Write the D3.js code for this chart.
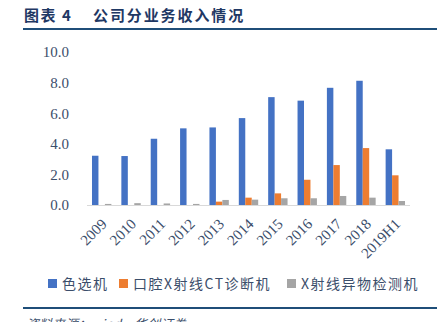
<!DOCTYPE html>
<html><head><meta charset="utf-8">
<script src="https://cdn.jsdelivr.net/npm/d3@7"></script>
<style>body{margin:0;background:#fff}</style>
</head><body>
<svg id="c" width="448" height="322"></svg>
<script>
const categories = ["2009","2010","2011","2012","2013","2014","2015","2016","2017","2018","2019H1"];
const seriesNames = ["色选机","口腔X射线CT诊断机","X射线异物检测机"];
const colorSorter = [3.22,3.2,4.33,5.01,5.07,5.68,7.05,6.82,7.66,8.12,3.64];
const dentalCT = [0,0,0,0,0.22,0.48,0.76,1.65,2.61,3.72,1.94];
const xrayDetect = [0.07,0.12,0.1,0.07,0.33,0.35,0.44,0.44,0.59,0.48,0.26];
const yTicks = [0,2,4,6,8,10];
const colors = ["#4472C4","#ED7D31","#A5A5A5"];
const series = [colorSorter, dentalCT, xrayDetect];

const svg = d3.select("#c");
const textColor = "#3B4E6B";
const serif = "'Liberation Serif','Times New Roman',serif";
const cjk = "'Noto Sans CJK SC','Liberation Serif',serif";

// title
svg.append("text").attr("x",24).attr("y",21).attr("fill","#1F3864")
  .attr("font-family",cjk).attr("font-weight","bold").attr("font-size",15)
  .attr("letter-spacing",1.5).text("图表 4");
svg.append("text").attr("x",93).attr("y",21).attr("fill","#1F3864")
  .attr("font-family",cjk).attr("font-weight","bold").attr("font-size",15)
  .attr("letter-spacing",1.9).text("公司分业务收入情况");
svg.append("line").attr("x1",23).attr("x2",437).attr("y1",29).attr("y2",29)
  .attr("stroke","#1F4E79").attr("stroke-width",2);

const x = d3.scaleBand().domain(categories).range([87,410]).paddingInner(0.34).paddingOuter(0.17);
const y = d3.scaleLinear().domain([0,10]).range([205,52]);
const xs = d3.scaleBand().domain(d3.range(3)).range([0,x.bandwidth()]);

// y axis labels
const yAxis = d3.axisLeft(y).tickValues(yTicks).tickFormat(d3.format(".1f")).tickSize(0).tickPadding(0);
const gy = svg.append("g").attr("transform","translate(69,0)").call(yAxis);
gy.select(".domain").remove();
gy.selectAll("text").attr("fill",textColor).attr("font-family",serif).attr("font-size",15);

// bars
series.forEach((vals,si)=>{
  svg.append("g").selectAll("rect").data(vals).join("rect")
    .attr("x",(d,i)=>x(categories[i])+xs(si))
    .attr("width",xs.bandwidth())
    .attr("y",d=>y(d))
    .attr("height",d=>y(0)-y(d))
    .attr("fill",colors[si]);
});

// x axis
const xAxis = d3.axisBottom(x).tickSize(0).tickPadding(0);
const gx = svg.append("g").attr("transform","translate(0,205)").call(xAxis);
gx.select(".domain").attr("stroke","#D9D9D9").attr("d","M87,0.5H410");
gx.selectAll("text").attr("fill",textColor).attr("font-family",serif).attr("font-size",15)
  .attr("text-anchor","end").attr("dy",0)
  .attr("transform","translate(6,20) rotate(-45)");

// legend
const legendX = [48,119,287];
seriesNames.forEach((n,i)=>{
  svg.append("rect").attr("x",legendX[i]).attr("y",279).attr("width",9).attr("height",9).attr("fill",colors[i]);
  svg.append("text").attr("x",legendX[i]+14).attr("y",289).attr("fill",textColor)
    .attr("font-family",cjk).attr("font-size",14).attr("letter-spacing",1.5).text(n);
});
svg.append("line").attr("x1",23).attr("x2",437).attr("y1",308).attr("y2",308)
  .attr("stroke","#1F4E79").attr("stroke-width",2);

svg.append("text").attr("x",26).attr("y",329).attr("fill",textColor)
  .attr("font-family",cjk).attr("font-style","italic").attr("font-size",13)
  .text("资料来源：wind，华创证券");
</script>
</body></html>
